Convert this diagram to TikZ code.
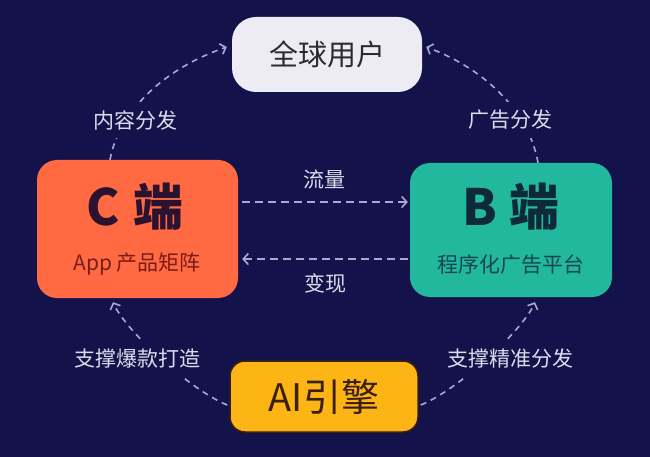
\documentclass[tikz,border=0pt]{standalone}
\usepackage{fontspec}
\setmainfont{Noto Sans CJK SC}
\usetikzlibrary{arrows.meta}
\definecolor{bgc}{HTML}{14124A}
\definecolor{topfill}{HTML}{EDEBF3}
\definecolor{toptext}{HTML}{2B2B33}
\definecolor{cfill}{HTML}{FF6A42}
\definecolor{ctext}{HTML}{2A1230}
\definecolor{csub}{HTML}{7A1B1B}
\definecolor{bfill}{HTML}{22B89E}
\definecolor{btext}{HTML}{0E2A3A}
\definecolor{bsub}{HTML}{1A4550}
\definecolor{aifill}{HTML}{FDB515}
\definecolor{aiedge}{HTML}{3B1F0F}
\definecolor{aitext}{HTML}{3A1E0E}
\definecolor{dashc}{HTML}{A9A8D0}
\definecolor{labc}{HTML}{DCDCEC}
\begin{document}
\begin{tikzpicture}[x=1pt,y=-1pt,
  box/.style={rectangle, inner sep=0pt, align=center},
  flow/.style={draw=dashc, line width=1.6pt, dash pattern=on 6pt off 5pt,
    -{Straight Barb[length=5pt,width=11pt,line width=1.6pt]}},
  lab/.style={fill=bgc, text=labc, inner xsep=4pt, inner ysep=8pt, font=\fontsize{21}{24}\selectfont}]
\fill[bgc] (0,0) rectangle (650,457);
\useasboundingbox (0,0) rectangle (650,457);

\node[box, fill=topfill, rounded corners=24pt, minimum width=190pt, minimum height=75pt,
  text=toptext, font=\fontsize{29}{32}\selectfont] (users) at (327,54.5) {全球用户};

\node[box, fill=cfill, rounded corners=20pt, minimum width=201pt, minimum height=138pt] (cside) at (137.5,229) {};
\node[text=ctext, font=\fontsize{50}{54}\selectfont\bfseries] (ctitle) at (135,207) {C\hspace{14pt}端};
\node[text=csub, font=\fontsize{21}{24}\selectfont] (csubt) at (137,264) {App 产品矩阵};

\node[box, fill=bfill, rounded corners=20pt, minimum width=202pt, minimum height=134pt] (bside) at (511,230) {};
\node[text=btext, font=\fontsize{50}{54}\selectfont\bfseries] (btitle) at (511,207) {B\hspace{12pt}端};
\node[text=bsub, font=\fontsize{21}{24}\selectfont] (bsubt) at (511,265) {程序化广告平台};

\node[box, fill=aifill, draw=aiedge, line width=1.5pt, rounded corners=15pt,
  minimum width=188pt, minimum height=71pt, text=aitext,
  font=\fontsize{38}{42}\selectfont] (ai) at (324,396.5) {AI引擎};

% curved connectors
\draw[flow] ([xshift=-27.5pt]cside.north) .. controls (118,115) and (160,70) .. ([xshift=-5pt,yshift=7.5pt]users.west);
\draw[flow] ([xshift=27pt]bside.north) .. controls (530,115) and (488,70) .. ([xshift=4pt,yshift=7.5pt]users.east);
\draw[flow] ([xshift=-2pt,yshift=-8.5pt]ai.west) .. controls (190,390) and (125,330) .. ([xshift=-24.5pt,yshift=-4pt]cside.south);
\draw[flow] ([xshift=2pt,yshift=-8.5pt]ai.east) .. controls (458,390) and (523,330) .. ([xshift=24pt,yshift=-5pt]bside.south);

% straight connectors
\draw[flow, dash pattern=on 8pt off 5pt] ([xshift=4pt,yshift=27pt]cside.east) -- ([xshift=-2pt,yshift=28pt]bside.west);
\draw[flow, dash pattern=on 8pt off 5pt] ([xshift=-2pt,yshift=-29pt]bside.west) -- ([xshift=4pt,yshift=-30pt]cside.east);

% labels
\node[lab] (l1) at (135,120) {内容分发};
\node[lab] (l2) at (510,120) {广告分发};
\node[lab, fill=none] (l3) at (324,179) {流量};
\node[lab, fill=none] (l4) at (325,283) {变现};
\node[lab] (l5) at (137,359) {支撑爆款打造};
\node[lab] (l6) at (510,359) {支撑精准分发};
\end{tikzpicture}
\end{document}
